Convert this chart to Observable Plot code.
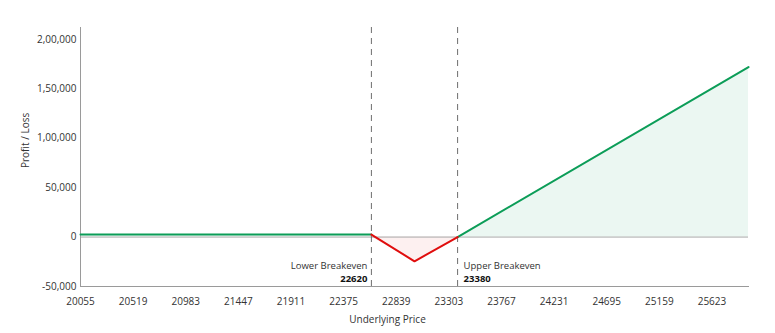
<!DOCTYPE html>
<html>
<head>
<meta charset="utf-8">
<script src="https://cdn.jsdelivr.net/npm/d3@7"></script>
<script src="https://cdn.jsdelivr.net/npm/@observablehq/plot@0.6"></script>
<style>
  html, body { margin: 0; padding: 0; background: #fff; }
  #chart svg { display: block; font-family: "Open Sans", sans-serif; }
</style>
</head>
<body>
<div id="chart"></div>
<script>
// ---- data ----
const prices = [20055, 22620, 23000, 23380, 25945];
const pnl = [2500, 2500, -24500, 0, 172000];
const breakevens = [22620, 23380];
const breakevenNames = ["Lower Breakeven", "Upper Breakeven"];
const xTicks = [20055, 20519, 20983, 21447, 21911, 22375, 22839, 23303, 23767, 24231, 24695, 25159, 25623];
const yTicks = [-50000, 0, 50000, 100000, 150000, 200000];
const xLabel = "Underlying Price";
const yLabel = "Profit / Loss";

const GREEN = "#0c9d58", RED = "#e00d0d";
const GREEN_FILL = "#ebf7f2", RED_FILL = "#fdf0f0";

function indian(n) {
  const neg = n < 0; let s = String(Math.abs(Math.round(n)));
  if (s.length > 3) {
    const last3 = s.slice(-3); let rest = s.slice(0, -3);
    rest = rest.replace(/\B(?=(\d{2})+(?!\d))/g, ",");
    s = rest + "," + last3;
  }
  return (neg ? "-" : "") + s;
}

// split the payoff into runs of profit / loss segments (sharing endpoints)
const rows = [];
let seg = -1, prevKind = null;
for (let i = 0; i < prices.length - 1; i++) {
  const kind = (pnl[i] < 0 || pnl[i + 1] < 0) ? "loss" : "profit";
  if (kind !== prevKind) {
    seg++; prevKind = kind;
    rows.push({x: prices[i], y: pnl[i], seg, kind});
  }
  rows.push({x: prices[i + 1], y: pnl[i + 1], seg, kind});
}
const profitRows = rows.filter(d => d.kind === "profit");
const lossRows = rows.filter(d => d.kind === "loss");
const lowerBE = [{x: breakevens[0], name: breakevenNames[0], value: String(breakevens[0])}];
const upperBE = [{x: breakevens[1], name: breakevenNames[1], value: String(breakevens[1])}];

const chart = Plot.plot({
  width: 775,
  height: 333,
  marginLeft: 80,
  marginRight: 27,
  marginTop: 27,
  marginBottom: 47,
  style: {fontFamily: "Open Sans, sans-serif", fontSize: "10px", color: "#333"},
  x: {domain: [prices[0], prices[prices.length - 1]]},
  y: {domain: [-50000, 212000]},
  marks: [
    Plot.areaY(profitRows, {x: "x", y1: 0, y2: "y", z: "seg", fill: GREEN_FILL}),
    Plot.areaY(lossRows, {x: "x", y1: 0, y2: d => Math.min(0, d.y), z: "seg", fill: RED_FILL}),
    Plot.ruleY([0], {stroke: "#a8a8a8", strokeWidth: 1}),
    Plot.ruleX(breakevens, {stroke: "#6e6e6e", strokeWidth: 1, strokeDasharray: "6,5"}),
    Plot.frame({anchor: "left", stroke: "#9a9a9a"}),
    Plot.frame({anchor: "bottom", stroke: "#9a9a9a"}),
    Plot.line(profitRows, {x: "x", y: "y", z: "seg", stroke: GREEN, strokeWidth: 2}),
    Plot.line(lossRows, {x: "x", y: "y", z: "seg", stroke: RED, strokeWidth: 2}),
    Plot.axisY({ticks: yTicks, tickFormat: indian, tickSize: 0, tickPadding: 4, label: null, fontSize: 10, fill: "#333"}),
    Plot.axisX({ticks: xTicks, tickFormat: d => String(d), tickSize: 0, tickPadding: 11, label: null, fontSize: 10, fill: "#333"}),
    Plot.text(lowerBE, {x: "x", text: "name", frameAnchor: "bottom", dy: -18, dx: -4, textAnchor: "end", fontSize: 9.5, fill: "#333"}),
    Plot.text(lowerBE, {x: "x", text: "value", frameAnchor: "bottom", dy: -5, dx: -4, textAnchor: "end", fontSize: 9.5, fontWeight: "bold", fill: "#111"}),
    Plot.text(upperBE, {x: "x", text: "name", frameAnchor: "bottom", dy: -18, dx: 6, textAnchor: "start", fontSize: 9.5, fill: "#333"}),
    Plot.text(upperBE, {x: "x", text: "value", frameAnchor: "bottom", dy: -5, dx: 6, textAnchor: "start", fontSize: 9.5, fontWeight: "bold", fill: "#111"}),
    Plot.text([xLabel], {frameAnchor: "bottom", dy: 36, dx: -27, fontSize: 10, fill: "#333"}),
    Plot.text([yLabel], {frameAnchor: "left", dx: -55, dy: 11, rotate: -90, fontSize: 10, fill: "#333"})
  ]
});
document.getElementById("chart").appendChild(chart);
</script>
</body>
</html>
